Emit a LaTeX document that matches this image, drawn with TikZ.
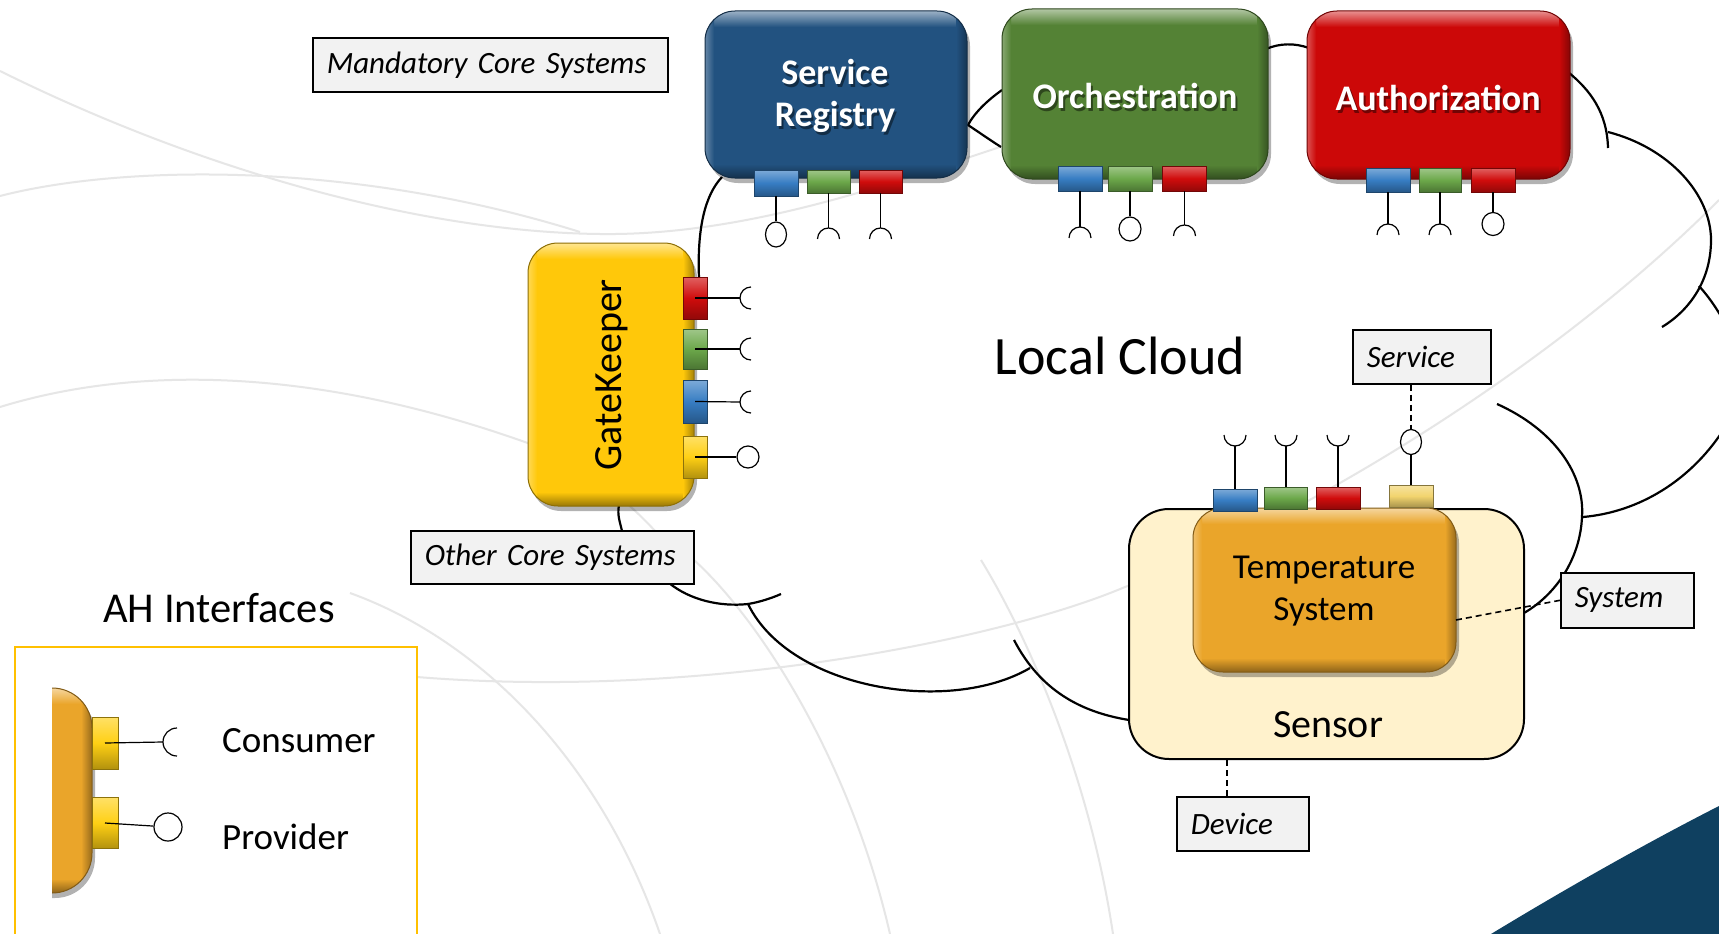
\documentclass[tikz,border=0pt]{standalone}
\usepackage{fontspec}
\setmainfont{Carlito}
\usetikzlibrary{shapes.geometric}
\definecolor{srblue}{RGB}{34,82,128}
\definecolor{orchgreen}{RGB}{84,130,53}
\definecolor{authred}{RGB}{204,8,8}
\definecolor{gkyellow}{RGB}{255,200,10}
\definecolor{tsorange}{RGB}{234,165,42}
\definecolor{pblue}{RGB}{55,125,195}
\definecolor{pgreen}{RGB}{108,168,74}
\definecolor{pred}{RGB}{208,12,12}
\definecolor{pyellow}{RGB}{255,208,20}
\definecolor{ppale}{RGB}{242,212,110}
\definecolor{sensorfill}{RGB}{255,242,204}
\definecolor{lblfill}{RGB}{242,242,242}
\definecolor{legborder}{RGB}{255,192,0}
\definecolor{navyc}{RGB}{15,64,96}
\definecolor{bggray}{RGB}{230,230,230}
\newcommand\bevelbox[6]{%
  \fill[black,opacity=0.3,rounded corners=#6] (#1+3,#2+5) rectangle (#3+3,#4+5);
  \begin{scope}
    \clip[rounded corners=#6] (#1,#2) rectangle (#3,#4);
    \fill[#5] (#1,#2) rectangle (#3,#4);
    \shade[top color=#5!45!white, bottom color=#5] (#1,#2) rectangle (#3,#2+16);
    \shade[top color=#5, bottom color=#5!60!black] (#1,#4-14) rectangle (#3,#4);
    \shade[left color=#5!70!white, right color=#5] (#1,#2) rectangle (#1+9,#4);
    \shade[left color=#5, right color=#5!65!black] (#3-11,#2) rectangle (#3,#4);
  \end{scope}
  \draw[#5!55!black, line width=1pt, rounded corners=#6] (#1,#2) rectangle (#3,#4);
}
\begin{document}
\begin{tikzpicture}[x=1pt,y=-1pt,
  cloud/.style={line width=2.2pt, black},
  pinline/.style={line width=1.2pt, black},
  dashline/.style={line width=1.6pt, black, dash pattern=on 6pt off 4pt},
  lbl/.style={draw=black, line width=1.6pt, fill=lblfill, font=\fontsize{31}{36}\selectfont\itshape, inner xsep=14pt, align=left, anchor=north west},
  port/.style={draw=#1!55!black, line width=0.8pt, top color=#1!65!white, bottom color=#1!70!black, middle color=#1, minimum width=43pt, minimum height=23pt, inner sep=0pt},
  prov/.style={ellipse, draw, line width=1.2pt, minimum width=21pt, minimum height=25pt, inner sep=0pt},
  ttl/.style={text=white, font=\bfseries\fontsize{36}{42}\selectfont, align=center},
  ttlshadow/.style={ttl, text=black, opacity=0.45},
  sockdown/.pic={\draw[pinline] (-11pt,-11pt) arc[start angle=180,end angle=0,radius=11pt];},
  sockup/.pic={\draw[pinline] (-11pt,11pt) arc[start angle=180,end angle=360,radius=11pt];},
  sockright/.pic={\draw[pinline] (11pt,11pt) arc[start angle=90,end angle=270,radius=11pt];},
  bigsockright/.pic={\draw[pinline] (14pt,14pt) arc[start angle=90,end angle=270,radius=14pt];}
]
\useasboundingbox (0,0) rectangle (1719,934);
\clip (0,0) rectangle (1719,934);
\fill[white] (0,0) rectangle (1719,934);

% faint background arcs
\begin{scope}[bggray, line width=2pt]
\draw (0,71) .. controls (200,170) and (420,232) .. (600,234) .. controls (750,236) and (900,180) .. (1000,147);
\draw (0,196) .. controls (120,165) and (350,160) .. (580,232);
\draw (0,407) .. controls (120,370) and (300,360) .. (536,446) .. controls (600,475) and (640,510) .. (680,560);
\draw (350,593) .. controls (480,640) and (600,760) .. (660,934);
\draw (694,560) .. controls (760,620) and (850,760) .. (890,934);
\draw (981,560) .. controls (1030,640) and (1090,780) .. (1113,934);
\draw (417,677) .. controls (700,700) and (1000,640) .. (1125,587) .. controls (1300,520) and (1550,370) .. (1719,200);
\end{scope}

% navy corner
\fill[navyc] (1491,934) .. controls (1580,880) and (1660,836) .. (1719,806) -- (1725,940) -- (1491,940) -- cycle;

% cloud outline
\begin{scope}[cloud]
\draw (722,177) .. controls (705,195) and (697,228) .. (699,278);
\draw (1002,90) .. controls (988,100) and (975,112) .. (968,125) .. controls (980,133) and (990,140) .. (1001,147);
\draw (1266,49) .. controls (1280,43) and (1295,43) .. (1309,48);
\draw (1568,72) .. controls (1590,90) and (1607,112) .. (1608,148);
\draw (1608,132) .. controls (1670,148) and (1711,195) .. (1711,240) .. controls (1711,280) and (1690,310) .. (1662,327);
\draw (1699,286) .. controls (1708,296) and (1715,306) .. (1722,318);
\draw (1722,432) .. controls (1690,480) and (1640,512) .. (1583,517);
\draw (1497,404) .. controls (1555,430) and (1585,475) .. (1582,517) .. controls (1580,560) and (1555,595) .. (1524,613);
\draw (1014,640) .. controls (1040,690) and (1080,712) .. (1129,720);
\draw (748,604) .. controls (790,690) and (950,715) .. (1030,668);
\draw (669,583) .. controls (690,600) and (720,607) .. (748,604) .. controls (760,602) and (772,598) .. (781,594);
\end{scope}

% legend
\draw[legborder, line width=1.5pt] (15,647) rectangle (417,950);
\node[font=\fontsize{42.5}{48}\selectfont] (ahi) at (219,608) {AH Interfaces};
\begin{scope}
\clip (52,600) rectangle (300,934);
\bevelbox{-10}{688}{92}{893}{tsorange}{40pt}
\end{scope}
\node[port=pyellow, minimum width=26pt, minimum height=52pt] (l1) at (105,743) {};
\node[port=pyellow, minimum width=26pt, minimum height=51pt] (l2) at (105,823) {};
\coordinate (lcs) at (163,742);
\node[prov, minimum width=28pt, minimum height=28pt] (lpp) at (168,827) {};
\draw[pinline] (l1.center) -- (lcs);
\pic at (lcs) {bigsockright};
\draw[pinline] (l2.center) -- (lpp);
\node[font=\fontsize{37}{42}\selectfont, anchor=west, inner sep=0pt] (cons) at (222,741) {Consumer};
\node[font=\fontsize{37}{42}\selectfont, anchor=west, inner sep=0pt] (provt) at (222,837) {Provider};

% Service Registry
\bevelbox{705}{11}{967}{178}{srblue}{30pt}
\node[ttlshadow] (srtS) at (837,99) {Service\\Registry};
\node[ttl] (srt) at (835,96) {Service\\Registry};
% Orchestration
\bevelbox{1002}{9}{1268}{179}{orchgreen}{30pt}
\node[ttlshadow] (ortS) at (1137,99) {Orchestration};
\node[ttl] (ort) at (1135,96) {Orchestration};
% Authorization
\bevelbox{1307}{11}{1570}{179}{authred}{30pt}
\node[ttlshadow] (autS) at (1440,101) {Authorization};
\node[ttl] (aut) at (1438,98) {Authorization};

% SR ports and pins
\node[port=pblue, minimum width=44pt, minimum height=26pt] (sr1) at (776,183) {};
\node[port=pgreen] (sr2) at (828.5,181.5) {};
\node[port=pred] (sr3) at (880.5,181.5) {};
\node[prov] (srp1) at (776,234.5) {};
\coordinate (srs2) at (828.5,228);
\coordinate (srs3) at (880.5,228);
\draw[pinline] (sr1.south) -- (srp1);
\draw[pinline] (sr2.south) -- (srs2); \pic at (srs2) {sockdown};
\draw[pinline] (sr3.south) -- (srs3); \pic at (srs3) {sockdown};

% Orchestration ports and pins
\node[port=pblue, minimum width=44pt, minimum height=25pt] (o1) at (1080,178.5) {};
\node[port=pgreen, minimum width=44pt, minimum height=25pt] (o2) at (1130,178.5) {};
\node[port=pred, minimum width=44pt, minimum height=25pt] (o3) at (1184.5,178.5) {};
\coordinate (os1) at (1080,227);
\node[prov, minimum width=22pt, minimum height=24pt] (op2) at (1130,229) {};
\coordinate (os3) at (1184.5,225);
\draw[pinline] (o1.south) -- (os1); \pic at (os1) {sockdown};
\draw[pinline] (o2.south) -- (op2);
\draw[pinline] (o3.south) -- (os3); \pic at (os3) {sockdown};

% Authorization ports and pins
\node[port=pblue, minimum width=44pt, minimum height=24pt] (a1) at (1388,180) {};
\node[port=pgreen, minimum width=42pt, minimum height=24pt] (a2) at (1440,180) {};
\node[port=pred, minimum width=44pt, minimum height=24pt] (a3) at (1493,180) {};
\coordinate (as1) at (1388,224);
\coordinate (as2) at (1440,224);
\node[prov, minimum width=22pt, minimum height=23pt] (ap3) at (1493,224) {};
\draw[pinline] (a1.south) -- (as1); \pic at (as1) {sockdown};
\draw[pinline] (a2.south) -- (as2); \pic at (as2) {sockdown};
\draw[pinline] (a3.south) -- (ap3);

% GateKeeper
\draw[cloud] (619,505) .. controls (617,515) and (620,522) .. (622,531);
\bevelbox{528}{243}{694}{506}{gkyellow}{30pt}
\node[font=\fontsize{40}{48}\selectfont, rotate=90] (gkt) at (612,375) {GateKeeper};
\node[port=pred, minimum width=24pt, minimum height=42pt] (g1) at (695,298) {};
\node[port=pgreen, minimum width=24pt, minimum height=40pt] (g2) at (695,349) {};
\node[port=pblue, minimum width=24pt, minimum height=43pt] (g3) at (695,401.5) {};
\node[port=pyellow, minimum width=24pt, minimum height=42pt] (g4) at (695,457) {};
\coordinate (gs1) at (740,298);
\coordinate (gs2) at (740,349);
\coordinate (gs3) at (740,402);
\node[prov, minimum width=22pt, minimum height=22pt] (gp4) at (748,457) {};
\draw[pinline] (g1.center) -- (gs1); \pic at (gs1) {sockright};
\draw[pinline] (g2.center) -- (gs2); \pic at (gs2) {sockright};
\draw[pinline] (g3.center) -- (gs3); \pic at (gs3) {sockright};
\draw[pinline] (g4.center) -- (gp4);

% Local Cloud
\node[font=\fontsize{54}{64}\selectfont] (lc) at (1120,356) {Local Cloud};

% Sensor and Temperature System
\node[draw, line width=2pt, fill=sensorfill, rounded corners=40pt, minimum width=395pt, minimum height=250pt, inner sep=0pt] (sensor) at (1326.5,634) {};
\node[font=\fontsize{40}{48}\selectfont] (sent) at (1328,725) {Sensor};
\bevelbox{1193}{508}{1456}{672}{tsorange}{30pt}
\node[font=\fontsize{35}{42}\selectfont, align=center] (tst) at (1324,591) {Temperature\\System};
\node[port=pblue, minimum width=44pt, minimum height=22pt] (t1) at (1235,500) {};
\node[port=pgreen, minimum width=43pt, minimum height=22pt] (t2) at (1286,498) {};
\node[port=pred, minimum width=44pt, minimum height=22pt] (t3) at (1338,498) {};
\node[port=ppale, minimum width=44pt, minimum height=22pt] (t4) at (1411,496) {};
\coordinate (ts1) at (1235,446);
\coordinate (ts2) at (1286,446);
\coordinate (ts3) at (1338,446);
\node[prov] (tp4) at (1411,442) {};
\draw[pinline] (t1.north) -- (ts1); \pic at (ts1) {sockup};
\draw[pinline] (t2.north) -- (ts2); \pic at (ts2) {sockup};
\draw[pinline] (t3.north) -- (ts3); \pic at (ts3) {sockup};
\draw[pinline] (t4.north) -- (tp4);

% labels
\node[lbl, text width=327pt, minimum height=54pt] (mcs) at (312,37) {Mandatory Core Systems};
\node[lbl, text width=255pt, minimum height=53pt] (ocs) at (410,530) {Other Core Systems};
\node[lbl, text width=110pt, minimum height=54pt] (svc) at (1352,329) {Service};
\node[lbl, text width=105pt, minimum height=55pt] (sys) at (1560,572) {System};
\node[lbl, text width=104pt, minimum height=54pt] (dev) at (1176,796) {Device};

% dashed connectors
\coordinate (tsR) at (1456,620);
\coordinate (devx) at (1227,780);
\draw[dashline] (tsR) -- (sys.west);
\draw[dashline] (svc.south -| tp4) -- (tp4);
\draw[dashline] (sensor.south -| devx) -- (dev.north -| devx);
\end{tikzpicture}
\end{document}
